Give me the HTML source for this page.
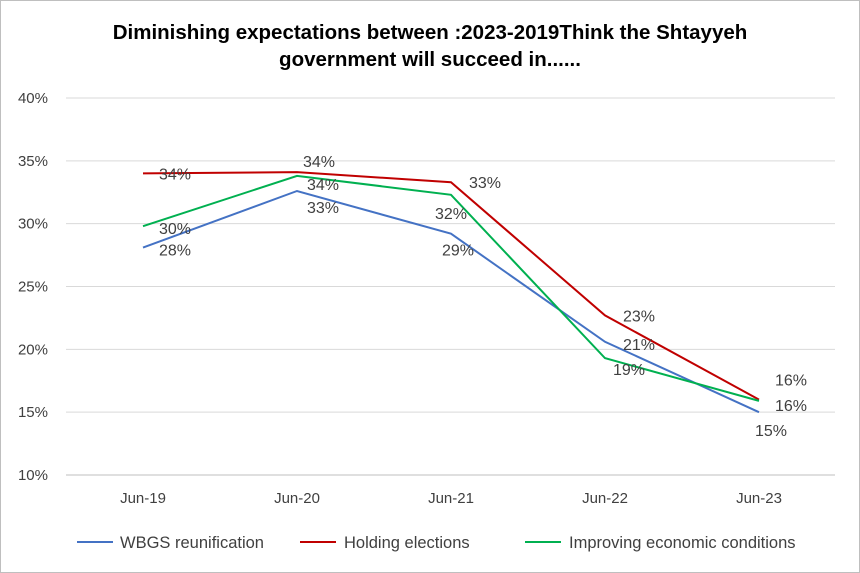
<!DOCTYPE html>
<html><head><meta charset="utf-8"><style>
html,body{margin:0;padding:0;background:#fff}
svg{display:block;font-family:"Liberation Sans",Arial,sans-serif}
</style></head><body>
<svg id="chart" width="860" height="573" viewBox="0 0 860 573">
<rect x="0.5" y="0.5" width="859" height="572" fill="#fff" stroke="#bfbfbf"/>
<text x="430" y="39" text-anchor="middle" font-size="20.5" font-weight="bold" fill="#000">Diminishing expectations between  :2023-2019Think the Shtayyeh</text>
<text x="430" y="66" text-anchor="middle" font-size="20.5" font-weight="bold" fill="#000">government will succeed in......</text>
<g id="grid"></g><g id="lines"></g><g id="labels"></g>
<g>
<line x1="77" y1="542" x2="113" y2="542" stroke="#4472c4" stroke-width="2"/>
<text x="120" y="548" font-size="16.5" fill="#404040">WBGS reunification</text>
<line x1="300" y1="542" x2="336" y2="542" stroke="#c00000" stroke-width="2"/>
<text x="344" y="548" font-size="16.5" fill="#404040">Holding elections</text>
<line x1="525" y1="542" x2="561" y2="542" stroke="#00b050" stroke-width="2"/>
<text x="569" y="548" font-size="16.5" fill="#404040">Improving economic conditions</text>
</g>
</svg>
<script>
const categories=["Jun-19","Jun-20","Jun-21","Jun-22","Jun-23"];
const yTicks=[10,15,20,25,30,35,40];
const wbgs=[28.1,32.6,29.2,20.6,15.0];
const elections=[34.0,34.1,33.3,22.7,16.0];
const economic=[29.8,33.8,32.3,19.3,15.9];
const wbgsLabels=["28%","33%","29%","21%","15%"];
const electionsLabels=["34%","34%","33%","23%","16%"];
const economicLabels=["30%","34%","32%","19%","16%"];
const NS="http://www.w3.org/2000/svg";
const x=i=>143+i*154;
const y=v=>475-(v-10)*377/30;
function mk(tag,attrs,parent){const e=document.createElementNS(NS,tag);for(const k in attrs)e.setAttribute(k,attrs[k]);parent.appendChild(e);return e;}
const grid=document.getElementById('grid'),lines=document.getElementById('lines'),labels=document.getElementById('labels');
yTicks.forEach(t=>{
  const l=mk('line',{x1:66,x2:835,y1:y(t),y2:y(t),stroke:t===10?'#bfbfbf':'#d9d9d9','stroke-width':1},grid);
  
  
  const tx=mk('text',{x:48,y:y(t)+5,'text-anchor':'end','font-size':15,fill:'#404040'},grid);
  tx.textContent=t+'%';
  
  
});
categories.forEach((c,i)=>{
  const tx=mk('text',{x:x(i),y:503,'text-anchor':'middle','font-size':15,fill:'#404040'},grid);
  tx.textContent=c;
  
  
});
const series=[
 {d:wbgs,lab:wbgsLabels,c:'#4472c4',n:'wbgs',off:[[32,8],[26,22],[7,22],[34,8],[12,24]]},
 {d:elections,lab:electionsLabels,c:'#c00000',n:'elections',off:[[32,6],[22,-5],[34,6],[34,6],[32,-14]]},
 {d:economic,lab:economicLabels,c:'#00b050',n:'economic',off:[[32,8],[26,14],[0,24],[24,17],[32,10]]}
];
series.forEach(s=>{
  const p=mk('polyline',{points:s.d.map((v,i)=>x(i)+','+y(v)).join(' '),fill:'none',stroke:s.c,'stroke-width':2},lines);
  
  
  s.d.forEach((v,i)=>{
    const t=mk('text',{x:x(i)+s.off[i][0],y:y(v)+s.off[i][1],'text-anchor':'middle','font-size':16,fill:'#404040'},labels);
    t.textContent=s.lab[i];
    
    
  });
});
</script>
</body></html>
